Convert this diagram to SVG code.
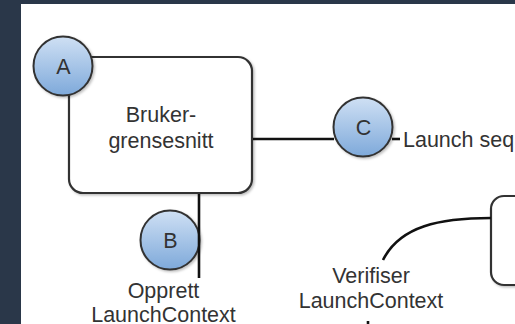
<svg xmlns="http://www.w3.org/2000/svg" width="515" height="324" viewBox="0 0 515 324">
<style>
.bg{fill:#2a3749}
.box{fill:#fff;stroke:#333;stroke-width:2.2}
.circ{fill:url(#blue);stroke:#333;stroke-width:2}
.lbl{font-family:"Liberation Sans",Arial,sans-serif;font-size:21.5px;fill:#333;text-anchor:middle}
.con{fill:none;stroke:#111;stroke-width:2.6}
</style>
<defs>
<linearGradient id="blue" x1="0" y1="0" x2="0" y2="1">
<stop offset="0" stop-color="#cfe0f4"/>
<stop offset="1" stop-color="#7ea9da"/>
</linearGradient>
<filter id="sh" x="-10%" y="-10%" width="130%" height="130%">
<feDropShadow dx="1.5" dy="1.5" stdDeviation="1.2" flood-color="#000" flood-opacity="0.25"/>
</filter>
</defs>
<rect class="bg" x="0" y="0" width="515" height="324"/>
<rect x="21" y="4" width="494" height="320" fill="#fff"/>
<g id="ui">
<rect class="box" x="69" y="57" width="183" height="136" rx="14" filter="url(#sh)"/>
<text class="lbl" x="161" y="122">Bruker-</text>
<text class="lbl" x="161" y="148">grensesnitt</text>
</g>
<g id="right-node">
<rect class="box" x="491" y="196" width="60" height="89" rx="13" filter="url(#sh)"/>
</g>
<g id="A">
<circle class="circ" cx="63" cy="66" r="29.5" filter="url(#sh)"/>
<text class="lbl" x="63.5" y="73.5">A</text>
</g>
<g id="C">
<circle class="circ" cx="363" cy="127" r="29.5" filter="url(#sh)"/>
<text class="lbl" x="363.5" y="134.5">C</text>
</g>
<g id="B">
<circle class="circ" cx="170" cy="240" r="29.5" filter="url(#sh)"/>
<text class="lbl" x="170.5" y="247.5">B</text>
</g>
<g id="labels">
<text class="lbl" x="163.5" y="298">Opprett</text>
<text class="lbl" x="163.5" y="322">LaunchContext</text>
<text class="lbl" x="371" y="283">Verifiser</text>
<text class="lbl" x="371" y="308">LaunchContext</text>
<text class="lbl" x="403" y="147" style="text-anchor:start">Launch sequence</text>
</g>
<g id="connectors">
<path class="con" d="M253 139 H334"/>
<path class="con" d="M392 139 H400"/>
<path class="con" d="M199 194 V278"/>
<path class="con" d="M491 218 C440 218 400 226 383 260"/>
<path class="con" d="M368 321 V324"/>
</g>
</svg>
